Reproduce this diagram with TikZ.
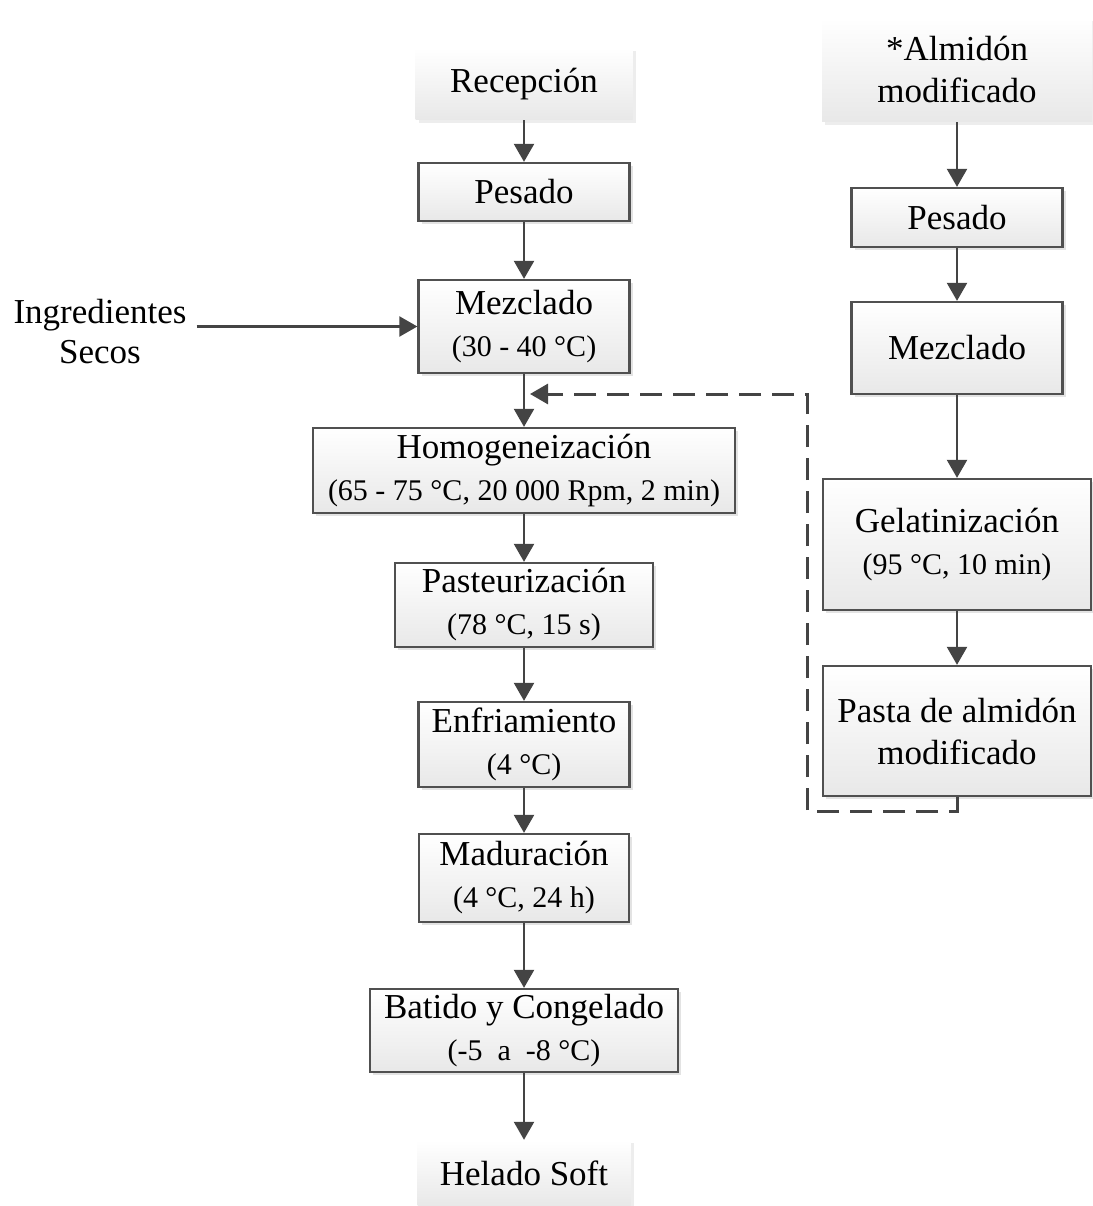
\documentclass[tikz,border=0pt]{standalone}
\usepackage{fontspec}
\setmainfont{Liberation Serif}
\usetikzlibrary{arrows.meta,shadows,calc}
\definecolor{edge}{HTML}{505050}
\definecolor{arrowc}{HTML}{444444}
\newcommand\detailline[1]{{\fontsize{30}{36}\selectfont #1}}

\begin{document}
\begin{tikzpicture}[x=1pt,y=-1pt,
  stage/.style={draw=edge, line width=2.3pt, top color=white, bottom color=black!9,
    drop shadow={shadow xshift=3pt, shadow yshift=-3pt, opacity=0.22},
    align=center, inner sep=0pt, font=\fontsize{35}{42}\selectfont},
  terminal/.style={top color=white, bottom color=black!9,
    drop shadow={shadow xshift=3pt, shadow yshift=-3pt, opacity=0.14},
    align=center, inner sep=0pt, font=\fontsize{35}{42}\selectfont},
  label/.style={align=center, inner xsep=10pt, font=\fontsize{35}{40}\selectfont},
  flow/.style={draw=arrowc, line width=2.3pt, -{Triangle[width=20pt,length=18pt]}},
  feedback/.style={flow, line width=3pt, dash pattern=on 22pt off 11pt}
]
\useasboundingbox (0,0) rectangle (1092,1206);

% main process line
\node[terminal, minimum width=217, minimum height=72] (rec) at (524,84) {Recepción};
\node[stage, minimum width=211, minimum height=58] (pes) at (524,192) {Pesado};
\node[stage, minimum width=211, minimum height=93] (mez) at (524,326.5) {Mezclado\\\detailline{(30 - 40 °C)}};
\node[stage, minimum width=422, minimum height=85] (hom) at (524,470.5) {Homogeneización\\\detailline{(65 - 75 °C, 20 000 Rpm, 2 min)}};
\node[stage, minimum width=258, minimum height=84] (pas) at (524,605) {Pasteurización\\\detailline{(78 °C, 15 s)}};
\node[stage, minimum width=211, minimum height=85] (enf) at (524,744.5) {Enfriamiento\\\detailline{(4 °C)}};
\node[stage, minimum width=210, minimum height=88] (mad) at (524,878) {Maduración\\\detailline{(4 °C, 24 h)}};
\node[stage, minimum width=308, minimum height=83] (bat) at (524,1030.5) {Batido y Congelado\\\detailline{(-5 \ a \ -8 °C)}};
\node[terminal, minimum width=213, minimum height=66] (hel) at (524,1173) {Helado Soft};

\node[label] (ing) at (100,332) {Ingredientes\\Secos};

% modified starch line
\node[terminal, minimum width=270, minimum height=104] (alm) at (957,70) {*Almidón\\modificado};
\node[stage, minimum width=211, minimum height=59] (pes2) at (957,217.5) {Pesado};
\node[stage, minimum width=211, minimum height=92] (mez2) at (957,348) {Mezclado};
\node[stage, minimum width=268, minimum height=131] (gel) at (957,544.5) {Gelatinización\\\detailline{(95 °C, 10 min)}};
\node[stage, minimum width=268, minimum height=130] (pasta) at (957,731) {Pasta de almidón\\modificado};

% connectors
\draw[flow] (rec.south) -- (pes.north);
\draw[flow] (pes.south) -- (mez.north);
\draw[flow] (mez.south) -- (hom.north);
\draw[flow] (hom.south) -- (pas.north);
\draw[flow] (pas.south) -- (enf.north);
\draw[flow] (enf.south) -- (mad.north);
\draw[flow] (mad.south) -- (bat.north);
\draw[flow] (bat.south) -- (hel.north);
\draw[flow] (ing.east |- mez.west) -- (mez.west);

\draw[flow] (alm.south) -- (pes2.north);
\draw[flow] (pes2.south) -- (mez2.north);
\draw[flow] (mez2.south) -- (gel.north);
\draw[flow] (gel.south) -- (pasta.north);

% return of the starch paste into the mix
\coordinate (fbturn) at (807,394);
\coordinate (fbin) at (530,394);
\draw[feedback] (pasta.south) -- ++(0,14) -| (fbturn) -- (fbin);
\end{tikzpicture}
\end{document}
